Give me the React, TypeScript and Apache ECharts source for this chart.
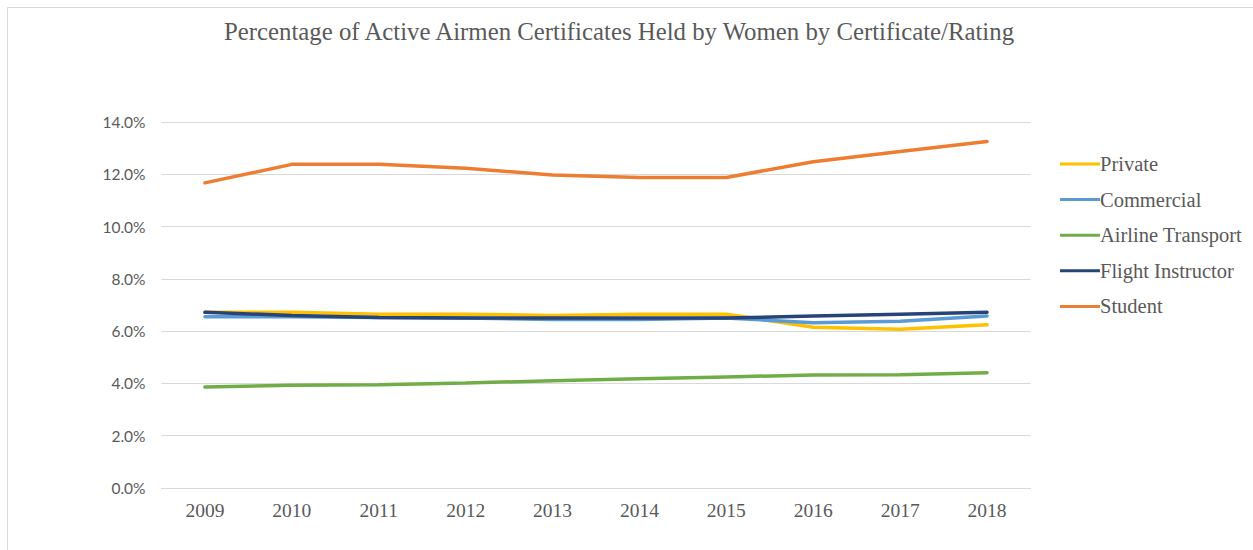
import React, { useEffect, useRef } from "react";
import * as echarts from "echarts";

const years = ["2009", "2010", "2011", "2012", "2013", "2014", "2015", "2016", "2017", "2018"];
const privateVals = [6.72, 6.72, 6.65, 6.65, 6.6, 6.65, 6.65, 6.15, 6.07, 6.24];
const commercialVals = [6.55, 6.55, 6.52, 6.5, 6.45, 6.45, 6.5, 6.32, 6.38, 6.58];
const airlineVals = [3.86, 3.93, 3.95, 4.02, 4.1, 4.18, 4.25, 4.32, 4.33, 4.41];
const instructorVals = [6.72, 6.6, 6.52, 6.5, 6.5, 6.5, 6.5, 6.58, 6.65, 6.72];
const studentVals = [11.67, 12.38, 12.38, 12.23, 11.97, 11.88, 11.88, 12.48, 12.87, 13.25];

const seriesNames = ["Private", "Commercial", "Airline Transport", "Flight Instructor", "Student"];
const seriesColors = ["#FFC000", "#5B9BD5", "#70AD47", "#264478", "#ED7D31"];
const seriesData = [privateVals, commercialVals, airlineVals, instructorVals, studentVals];

export default function App() {
  const ref = useRef<HTMLDivElement>(null);
  useEffect(() => {
    if (!ref.current) return;
    const chart = echarts.init(ref.current, null, { renderer: "svg" });
    const serif = "'Liberation Serif', 'Times New Roman', serif";
    chart.setOption({
      animation: false,
      backgroundColor: "#ffffff",
      title: {
        text: "Percentage of Active Airmen Certificates Held by Women by Certificate/Rating",
        left: 614,
        textAlign: "center",
        top: 14,
        textStyle: { fontFamily: serif, fontSize: 24.8, fontWeight: "normal", color: "#595959" },
      },
      graphic: [
        {
          type: "polyline",
          shape: { points: [[7.5, 560], [7.5, 7.5], [1260, 7.5]] },
          style: { stroke: "#d9d9d9", lineWidth: 1, fill: "none" },
          silent: true,
        },
      ],
      legend: {
        orient: "vertical",
        left: 1055,
        top: 148,
        icon: "rect",
        itemWidth: 40,
        itemHeight: 3,
        itemGap: 13.6,
        data: seriesNames,
        textStyle: { fontFamily: serif, fontSize: 20.5, color: "#595959", padding: [0, 0, 0, -5], lineHeight: 22 },
      },
      grid: { left: 161.5, right: 222.5, top: 122, bottom: 62, containLabel: false },
      xAxis: {
        type: "category",
        data: years,
        boundaryGap: true,
        axisTick: { show: false },
        axisLine: { show: true, lineStyle: { color: "#d9d9d9", width: 1 } },
        axisLabel: { fontFamily: serif, fontSize: 19.5, color: "#595959", margin: 12 },
      },
      yAxis: {
        type: "value",
        min: 0,
        max: 14,
        interval: 2,
        axisLine: { show: false },
        axisTick: { show: false },
        splitLine: { lineStyle: { color: "#d9d9d9", width: 1 } },
        axisLabel: {
          fontFamily: "Lato, 'Open Sans', sans-serif",
          fontSize: 15.5,
          color: "#595959",
          margin: 16,
          formatter: (v: number) => v.toFixed(1) + "%",
        },
      },
      series: seriesNames.map((name, i) => ({
        name,
        type: "line",
        data: seriesData[i],
        showSymbol: false,
        symbol: "none",
        lineStyle: { color: seriesColors[i], width: 3.5, cap: "round" },
        itemStyle: { color: seriesColors[i] },
      })),
    });
    return () => chart.dispose();
  }, []);
  return (
    <div
      ref={ref}
      style={{ position: "absolute", left: 0, top: 0, width: 1253, height: 550 }}
    />
  );
}
